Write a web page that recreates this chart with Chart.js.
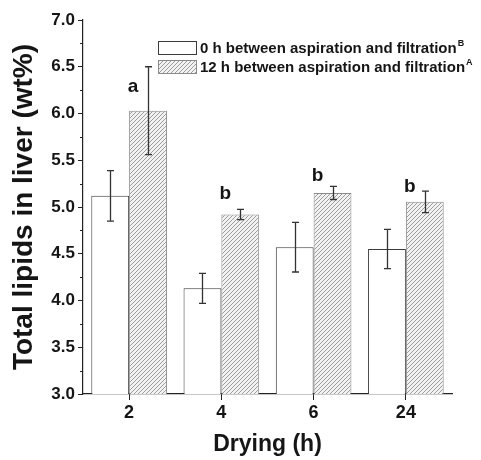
<!DOCTYPE html>
<html>
<head>
<meta charset="utf-8">
<style>
  html, body { margin: 0; padding: 0; background: #ffffff; }
  #wrap { width: 481px; height: 460px; }
</style>
<script src="https://cdn.jsdelivr.net/npm/chart.js@4.4.1/dist/chart.umd.min.js"></script>
</head>
<body>
<div id="wrap"><canvas id="c" width="481" height="460"></canvas></div>
<script>
// ---- data ----
const categories = ['2', '4', '6', '24'];
const seriesLabels = ['0 h between aspiration and filtration', '12 h between aspiration and filtration'];
const seriesSuperscripts = ['B', 'A'];
const mean0h = [5.12, 4.13, 4.57, 4.55];
const err0h = [0.27, 0.16, 0.265, 0.21];
const mean12h = [6.03, 4.92, 5.15, 5.055];
const err12h = [0.47, 0.055, 0.07, 0.115];
const sigLetters = ['a', 'b', 'b', 'b'];
const sigLetterValues = [6.29, 5.14, 5.33, 5.22];
const yTickValues = [3.0, 3.5, 4.0, 4.5, 5.0, 5.5, 6.0, 6.5, 7.0];

const FONT = "'Liberation Sans', Arial, Helvetica, sans-serif";
const INK = '#151515';

function makeHatch() {
  const c = document.createElement('canvas');
  c.width = 4; c.height = 4;
  const g = c.getContext('2d');
  g.fillStyle = '#f2f2f2';
  g.fillRect(0, 0, 4, 4);
  g.strokeStyle = '#9c9c9c';
  g.lineWidth = 1;
  g.beginPath();
  g.moveTo(-1, 5); g.lineTo(5, -1);
  g.moveTo(-1, 1); g.lineTo(1, -1);
  g.moveTo(3, 5); g.lineTo(5, 3);
  g.stroke();
  return g.createPattern(c, 'repeat');
}
const hatch = makeHatch();

const errorBarPlugin = {
  id: 'errorBars',
  afterDatasetsDraw(chart) {
    const ctx = chart.ctx;
    const y = chart.scales.y;
    const errs = [err0h, err12h];
    chart.data.datasets.forEach((ds, di) => {
      const meta = chart.getDatasetMeta(di);
      meta.data.forEach((bar, i) => {
        const v = ds.data[i];
        const e = errs[di][i];
        const yt = y.getPixelForValue(v + e);
        const yb = y.getPixelForValue(v - e);
        const x = Math.round(bar.x) + 0.5;
        ctx.save();
        ctx.strokeStyle = '#333333';
        ctx.lineWidth = 1.3;
        ctx.beginPath();
        ctx.moveTo(x, yt); ctx.lineTo(x, yb);
        ctx.moveTo(x - 3.5, yt); ctx.lineTo(x + 3.5, yt);
        ctx.moveTo(x - 3.5, yb); ctx.lineTo(x + 3.5, yb);
        ctx.stroke();
        ctx.restore();
      });
    });
  }
};

const decorPlugin = {
  id: 'decor',
  afterDraw(chart) {
    const ctx = chart.ctx;
    const y = chart.scales.y;
    const area = chart.chartArea;
    // minor ticks
    ctx.save();
    ctx.strokeStyle = '#222222';
    ctx.lineWidth = 1;
    for (let k = 0; k < yTickValues.length - 1; k++) {
      const v = (yTickValues[k] + yTickValues[k + 1]) / 2;
      const py = Math.round(y.getPixelForValue(v)) + 0.5;
      ctx.beginPath();
      ctx.moveTo(area.left - 3, py);
      ctx.lineTo(area.left, py);
      ctx.stroke();
    }
    ctx.restore();

    // significance letters
    const meta = chart.getDatasetMeta(1);
    ctx.save();
    ctx.fillStyle = INK;
    ctx.font = 'bold 19px ' + FONT;
    ctx.textAlign = 'center';
    ctx.textBaseline = 'middle';
    meta.data.forEach((bar, i) => {
      const px = bar.x - bar.width / 2 + 4;
      ctx.fillText(sigLetters[i], px, y.getPixelForValue(sigLetterValues[i]));
    });
    ctx.restore();

    // legend
    const boxX = 158, boxW = 39, boxH = 14;
    const rowsTop = [41, 60];
    ctx.save();
    chart.data.datasets.forEach((ds, di) => {
      const top = rowsTop[di];
      ctx.fillStyle = ds.backgroundColor;
      ctx.fillRect(boxX, top, boxW, boxH);
      ctx.strokeStyle = ds.borderColor;
      ctx.lineWidth = 1;
      ctx.strokeRect(boxX + 0.5, top + 0.5, boxW - 1, boxH - 1);
      ctx.fillStyle = INK;
      ctx.font = 'bold 15px ' + FONT;
      ctx.textAlign = 'left';
      ctx.textBaseline = 'alphabetic';
      const tx = 200, base = top + 12;
      ctx.fillText(ds.label, tx, base);
      const w = ctx.measureText(ds.label).width;
      ctx.font = 'bold 9px ' + FONT;
      ctx.fillText(seriesSuperscripts[di], tx + w + 1, base - 7);
    });
    ctx.restore();
  }
};

new Chart(document.getElementById('c'), {
  type: 'bar',
  data: {
    labels: categories,
    datasets: [
      {
        label: seriesLabels[0],
        data: mean0h,
        backgroundColor: '#ffffff',
        borderColor: '#3a3a3a',
        borderWidth: 1,
        borderSkipped: 'bottom'
      },
      {
        label: seriesLabels[1],
        data: mean12h,
        backgroundColor: hatch,
        borderColor: '#8a8a8a',
        borderWidth: 1,
        borderSkipped: 'bottom'
      }
    ]
  },
  options: {
    responsive: false,
    animation: false,
    devicePixelRatio: 1,
    barPercentage: 1.0,
    categoryPercentage: 0.82,
    layout: { padding: { left: 0, right: 29, top: 20, bottom: 0 } },
    plugins: {
      legend: { display: false },
      tooltip: { enabled: false }
    },
    scales: {
      x: {
        type: 'category',
        offset: true,
        grid: {
          display: true,
          offset: false,
          drawOnChartArea: false,
          drawTicks: true,
          tickLength: 6,
          tickColor: '#222222',
          tickWidth: 1
        },
        border: { display: true, color: '#222222', width: 1.2 },
        ticks: {
          color: INK,
          font: { family: FONT, size: 18, weight: 'bold' },
          padding: 2,
          maxRotation: 0
        },
        title: {
          display: true,
          text: 'Drying (h)',
          color: INK,
          font: { family: FONT, size: 23, weight: 'bold' },
          padding: { top: 0, bottom: 2 }
        },
        afterFit(scale) { scale.height = 66; }
      },
      y: {
        min: 3,
        max: 7,
        ticks: {
          stepSize: 0.5,
          color: INK,
          font: { family: FONT, size: 17, weight: 'bold' },
          padding: 3,
          callback: (v) => Number(v).toFixed(1)
        },
        grid: {
          display: true,
          drawOnChartArea: false,
          drawTicks: true,
          tickLength: 5,
          tickColor: '#222222',
          tickWidth: 1
        },
        border: { display: true, color: '#222222', width: 1.2 },
        title: {
          display: true,
          text: 'Total lipids in liver (wt%)',
          color: INK,
          font: { family: FONT, size: 28, weight: 'bold' },
          padding: { top: 7, bottom: 0 }
        },
        afterFit(scale) { scale.width = 83; }
      }
    }
  },
  plugins: [errorBarPlugin, decorPlugin]
});
</script>
</body>
</html>
